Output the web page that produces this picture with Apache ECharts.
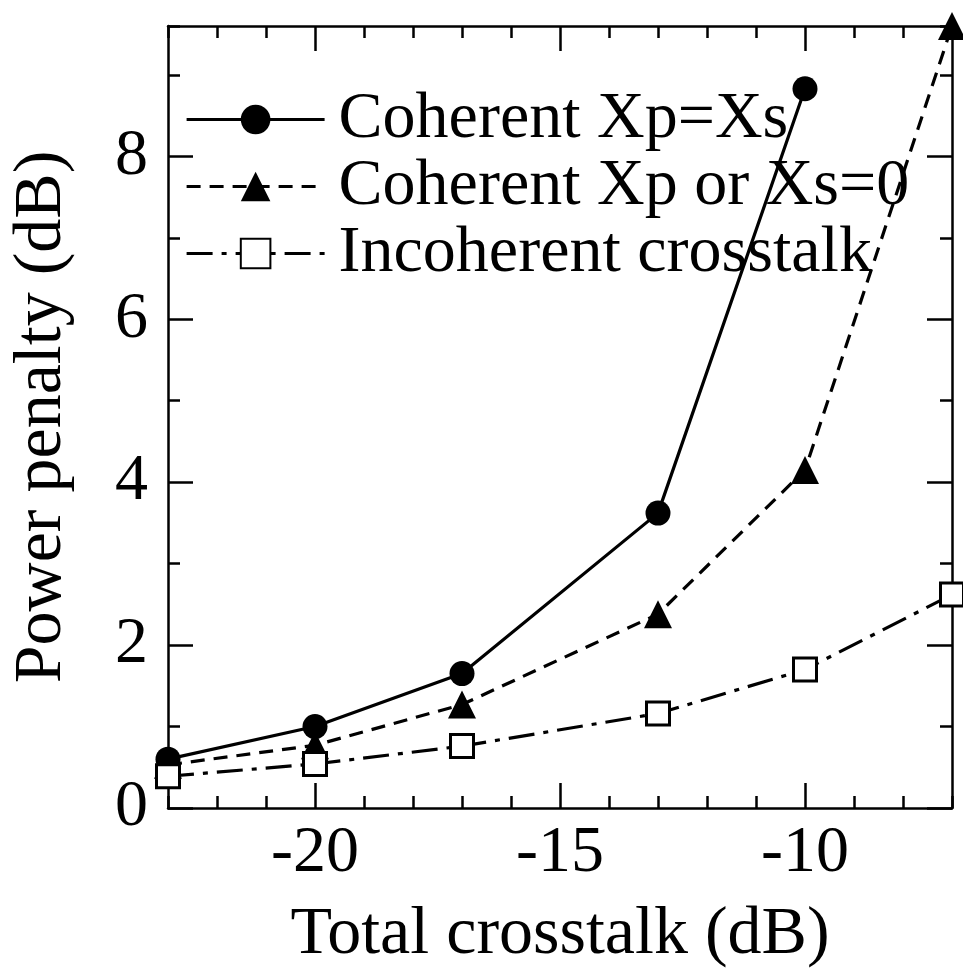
<!DOCTYPE html>
<html>
<head>
<meta charset="utf-8">
<script src="https://cdn.jsdelivr.net/npm/echarts@6/dist/echarts.min.js"></script>
<style>
html,body{margin:0;padding:0;background:#fff;}
#chart{width:963px;height:974px;}
</style>
</head>
<body>
<div id="chart"></div>
<script>
// ---- data ----
const crosstalk = [-23, -20, -17, -13, -10, -7];
const coherentEqual = [0.60, 1.00, 1.65, 3.62, 8.83];
const coherentZero = [0.53, 0.77, 1.27, 2.38, 4.15, 9.60];
const incoherent = [0.39, 0.54, 0.76, 1.16, 1.70, 2.62];
const seriesNames = ['Coherent Xp=Xs', 'Coherent Xp or Xs=0', 'Incoherent crosstalk'];
const xMajorTicks = [-20, -15, -10];
const yMajorTicks = [0, 2, 4, 6, 8];
const xRange = [-23, -7];
const yRange = [0, 9.6];

function zip(xs, ys) { return ys.map((v, i) => [xs[i], v]); }

const FONT = 'Liberation Serif';
const black = '#000';

function majorX(pos, labels) {
  return {
    type: 'value', position: pos, min: xRange[0], max: xRange[1],
    axisLine: { show: true, onZero: false, lineStyle: { color: black, width: 2.5 } },
    axisTick: { show: true, inside: true, length: 25, customValues: xMajorTicks, lineStyle: { color: black, width: 2.5 } },
    axisLabel: { show: labels, customValues: xMajorTicks, margin: 13, color: black, fontFamily: FONT, fontSize: 66 },
    splitLine: { show: false }
  };
}
function minorX(pos) {
  return {
    type: 'value', position: pos, min: xRange[0], max: xRange[1], interval: 1,
    axisLine: { show: false, onZero: false },
    axisTick: { show: true, inside: true, length: 12, lineStyle: { color: black, width: 2.5 } },
    axisLabel: { show: false }, splitLine: { show: false }
  };
}
function majorY(pos, labels) {
  return {
    type: 'value', position: pos, min: yRange[0], max: yRange[1],
    axisLine: { show: true, onZero: false, lineStyle: { color: black, width: 2.5 } },
    axisTick: { show: true, inside: true, length: 25, customValues: yMajorTicks, lineStyle: { color: black, width: 2.5 } },
    axisLabel: { show: labels, customValues: yMajorTicks, margin: 20, color: black, fontFamily: FONT, fontSize: 66 },
    splitLine: { show: false }
  };
}
function minorY(pos) {
  return {
    type: 'value', position: pos, min: yRange[0], max: yRange[1], interval: 1,
    axisLine: { show: false, onZero: false },
    axisTick: { show: true, inside: true, length: 12, lineStyle: { color: black, width: 2.5 } },
    axisLabel: { show: false }, splitLine: { show: false }
  };
}

const xBottom = majorX('bottom', true);
xBottom.name = 'Total crosstalk (dB)';
xBottom.nameLocation = 'middle';
xBottom.nameGap = 93;
xBottom.nameTextStyle = { color: black, fontFamily: FONT, fontSize: 68 };

const yLeft = majorY('left', true);
yLeft.name = 'Power penalty (dB)';
yLeft.nameLocation = 'middle';
yLeft.nameGap = 92;
yLeft.nameTextStyle = { color: black, fontFamily: FONT, fontSize: 68 };

const chart = echarts.init(document.getElementById('chart'), null, { renderer: 'canvas' });
chart.setOption({
  backgroundColor: '#fff',
  animation: false,
  grid: { left: 164, right: 11, top: 26, bottom: 162, containLabel: false },
  xAxis: [xBottom, minorX('bottom'), majorX('top', false), minorX('top')],
  yAxis: [yLeft, minorY('left'), majorY('right', false), minorY('right')],
  legend: {
    data: seriesNames,
    orient: 'vertical',
    left: 185, top: 86,
    padding: 0,
    itemWidth: 138, itemHeight: 37, itemGap: 0,
    lineStyle: { width: 3.2 },
    textStyle: { color: black, fontFamily: FONT, fontSize: 66, lineHeight: 67, padding: [0, 0, 0, 9] }
  },
  series: [
    {
      name: seriesNames[0], type: 'line', xAxisIndex: 0, yAxisIndex: 0, clip: false,
      data: zip(crosstalk, coherentEqual),
      symbol: 'circle', symbolSize: 25,
      lineStyle: { color: black, width: 3.2, type: 'solid' },
      itemStyle: { color: black }
    },
    {
      name: seriesNames[1], type: 'line', xAxisIndex: 0, yAxisIndex: 0, clip: false,
      data: zip(crosstalk, coherentZero),
      symbol: 'triangle', symbolSize: 28,
      lineStyle: { color: black, width: 3.2, type: [14, 9] },
      itemStyle: { color: black }
    },
    {
      name: seriesNames[2], type: 'line', xAxisIndex: 0, yAxisIndex: 0, clip: false,
      data: zip(crosstalk, incoherent),
      symbol: 'rect', symbolSize: 23,
      lineStyle: { color: black, width: 3.2, type: [26, 9, 5, 9] },
      itemStyle: { color: '#fff', borderColor: black, borderWidth: 3 }
    }
  ]
});
</script>
</body>
</html>
